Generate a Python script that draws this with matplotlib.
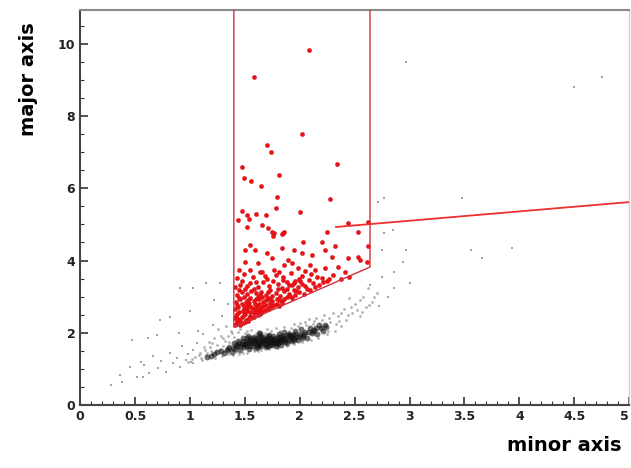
import matplotlib
matplotlib.use('Agg')
import matplotlib.pyplot as plt
from matplotlib.ticker import MultipleLocator

# selection cut (polygon) and fit line, in data units
cut_minor = [1.40, 1.40, 2.64, 2.64]
cut_major = [11.0, 2.16, 3.82, 11.0]
fit_minor = [2.33, 5.00]
fit_major = [4.93, 5.62]

# selected (red) events: (minor, major)
red_pts = [
    (1.42, 2.24), (1.45, 2.30), (1.48, 2.27), (1.51, 2.36), (1.44, 2.39), (1.53, 2.33), (1.43, 2.33),
    (1.42, 2.47), (1.47, 2.44), (1.50, 2.52), (1.55, 2.46), (1.58, 2.55), (1.62, 2.49), (1.66, 2.58),
    (1.45, 2.57), (1.52, 2.60), (1.60, 2.61), (1.56, 2.40), (1.49, 2.48),
    (1.41, 2.66), (1.44, 2.72), (1.49, 2.68), (1.53, 2.76), (1.57, 2.66), (1.61, 2.73), (1.65, 2.69),
    (1.69, 2.77), (1.73, 2.70), (1.77, 2.78), (1.47, 2.79), (1.59, 2.80), (1.81, 2.74), (1.63, 2.64),
    (1.42, 2.86), (1.46, 2.92), (1.51, 2.84), (1.55, 2.95), (1.58, 2.88), (1.63, 2.93), (1.67, 2.85),
    (1.71, 2.97), (1.75, 2.89), (1.79, 2.94), (1.84, 2.87), (1.88, 2.98), (1.93, 2.95), (1.49, 2.99),
    (1.62, 3.00), (1.54, 2.82), (1.69, 2.91),
    (1.43, 3.05), (1.47, 3.12), (1.52, 3.07), (1.56, 3.16), (1.60, 3.09), (1.65, 3.14), (1.69, 3.05),
    (1.73, 3.18), (1.78, 3.10), (1.82, 3.03), (1.86, 3.15), (1.90, 3.08), (1.95, 3.19), (1.99, 3.12),
    (2.04, 3.06), (2.09, 3.17), (1.75, 3.03),
    (1.41, 3.26), (1.46, 3.33), (1.50, 3.22), (1.55, 3.38), (1.62, 3.28), (1.67, 3.41), (1.72, 3.30),
    (1.80, 3.36), (1.84, 3.25), (1.88, 3.40), (1.93, 3.31), (2.00, 3.42), (2.05, 3.29), (2.12, 3.38),
    (2.18, 3.33), (2.25, 3.44), (1.90, 3.33), (1.95, 3.38), (1.98, 3.27), (2.02, 3.35), (1.96, 3.44),
    (1.43, 3.52), (1.49, 3.63), (1.57, 3.55), (1.64, 3.67), (1.70, 3.50), (1.78, 3.60), (1.85, 3.53),
    (1.92, 3.66), (2.02, 3.57), (2.10, 3.62), (2.20, 3.52), (2.30, 3.60), (2.38, 3.48), (2.45, 3.55),
    (1.45, 3.74), (1.55, 3.74), (1.66, 3.68), (1.77, 3.74), (1.86, 3.88), (1.93, 3.93), (1.98, 3.80),
    (2.09, 3.88), (2.14, 3.74), (2.23, 3.80), (2.35, 3.82), (2.41, 3.68), (2.55, 4.02), (2.61, 3.96),
    (1.75, 4.07), (1.89, 4.02), (1.50, 3.96), (1.62, 3.93),
    (1.55, 4.43), (2.03, 4.52), (2.20, 4.52), (2.32, 4.40), (2.62, 4.40), (1.50, 4.29), (1.59, 4.29),
    (1.70, 4.20), (1.84, 4.35), (1.95, 4.29), (2.02, 4.20), (2.11, 4.15), (2.23, 4.29), (2.29, 4.10),
    (2.44, 4.07), (2.53, 4.10),
    (1.77, 4.76), (1.85, 4.76), (2.25, 4.80), (2.53, 4.80), (1.52, 4.93), (1.66, 4.99), (1.71, 4.90),
    (1.75, 4.80), (1.86, 4.80), (1.84, 4.73), (1.76, 4.68), (2.44, 5.05), (2.62, 5.07),
    (1.79, 5.77), (2.28, 5.70), (1.78, 5.45), (1.47, 5.37), (1.52, 5.26), (1.60, 5.29), (1.69, 5.26),
    (2.00, 5.35), (1.44, 5.12), (1.54, 5.15),
    (1.47, 6.60), (1.49, 6.30), (1.56, 6.20), (1.65, 6.07), (1.81, 6.37), (2.34, 6.68),
    (1.70, 7.20), (1.74, 7.00), (2.02, 7.50), (1.58, 9.10), (2.08, 9.85),
    # extra events filling the dense lower part of the cut
    (1.41, 2.20), (1.46, 2.21), (1.50, 2.29), (1.46, 2.35), (1.54, 2.42), (1.41, 2.41), (1.58, 2.43),
    (1.61, 2.56), (1.64, 2.51), (1.68, 2.63), (1.43, 2.53), (1.48, 2.59), (1.55, 2.58), (1.52, 2.68),
    (1.60, 2.68), (1.67, 2.74), (1.71, 2.66), (1.75, 2.74), (1.79, 2.79), (1.84, 2.81), (1.43, 2.78),
    (1.50, 2.75), (1.56, 2.72), (1.63, 2.80), (1.73, 2.82), (1.45, 2.97), (1.53, 2.90), (1.60, 2.94),
    (1.66, 2.98), (1.73, 2.93), (1.81, 2.91), (1.86, 2.94), (1.91, 3.01), (1.96, 3.04), (1.45, 3.19),
    (1.58, 3.20), (1.64, 3.04), (1.71, 3.12), (1.80, 3.20), (1.88, 3.22), (1.97, 3.15), (2.07, 3.22),
    (2.14, 3.28), (2.21, 3.40), (1.52, 3.30), (1.60, 3.40), (1.76, 3.44), (1.85, 3.46), (1.99, 3.49),
    (2.08, 3.46), (2.16, 3.55), (2.27, 3.48), (1.47, 3.44), (1.68, 3.58), (1.81, 3.68), (2.05, 3.72),
]

# dense core of unselected (black) events
core_pts = [
    (1.31, 1.44), (1.34, 1.52), (1.36, 1.61), (1.38, 1.47), (1.40, 1.70), (1.41, 1.56), (1.43, 1.63),
    (1.44, 1.78), (1.46, 1.51), (1.47, 1.69), (1.48, 1.86), (1.49, 1.59), (1.51, 1.74), (1.52, 1.64),
    (1.53, 1.92), (1.54, 1.55), (1.55, 1.81), (1.56, 1.70), (1.57, 1.62), (1.58, 1.88), (1.59, 1.76),
    (1.60, 1.58), (1.61, 1.67), (1.62, 1.83), (1.63, 1.95), (1.64, 1.72), (1.65, 1.63), (1.66, 1.79),
    (1.67, 1.88), (1.68, 1.69), (1.69, 1.60), (1.70, 1.76), (1.71, 1.85), (1.72, 1.93), (1.73, 1.66),
    (1.74, 1.73), (1.75, 1.81), (1.76, 1.90), (1.77, 1.70), (1.78, 1.62), (1.79, 1.78), (1.80, 1.87),
    (1.81, 1.96), (1.82, 1.74), (1.83, 1.67), (1.84, 1.83), (1.85, 1.92), (1.86, 2.02), (1.87, 1.79),
    (1.88, 1.71), (1.89, 1.88), (1.90, 1.97), (1.92, 1.84), (1.93, 1.76), (1.94, 1.93), (1.96, 2.05),
    (1.97, 1.88), (1.98, 1.80), (2.00, 1.97), (2.01, 2.10), (2.03, 1.91), (2.05, 2.02), (2.07, 1.86),
    (2.09, 2.14), (2.11, 1.98), (2.13, 2.08), (2.16, 1.95), (2.18, 2.20), (2.21, 2.06), (2.24, 2.15),
    (1.62, 1.77), (1.66, 1.84), (1.70, 1.70), (1.74, 1.86), (1.78, 1.75), (1.82, 1.82), (1.86, 1.86),
    (1.68, 1.80), (1.72, 1.78), (1.76, 1.79), (1.80, 1.72), (1.64, 1.90), (1.58, 1.70), (1.54, 1.76),
    (1.50, 1.68), (1.46, 1.62), (1.88, 1.93), (1.92, 1.90), (1.96, 1.95), (1.60, 1.84), (1.84, 1.77),
    (1.71, 1.90), (1.79, 1.84), (1.67, 1.74), (1.75, 1.67), (1.63, 1.66), (1.58, 1.81), (1.52, 1.84),
    (1.65, 1.75), (1.69, 1.83), (1.73, 1.75), (1.77, 1.83), (1.81, 1.79), (1.85, 1.83), (1.61, 1.72),
    (1.57, 1.77), (1.53, 1.70), (1.49, 1.65), (1.45, 1.70), (1.42, 1.66), (1.39, 1.58), (1.35, 1.56),
    (1.28, 1.50), (1.25, 1.46), (1.22, 1.40), (1.19, 1.36), (1.16, 1.33), (1.90, 1.81), (1.95, 1.86),
    (1.99, 1.92), (2.04, 1.96), (2.08, 2.02), (2.12, 2.05), (2.15, 2.12), (2.19, 2.14), (2.23, 2.22),
    (1.48, 1.78), (1.56, 1.85), (1.64, 1.98), (1.69, 1.66), (1.76, 1.73), (1.83, 1.90), (1.91, 1.93),
    (1.55, 1.64), (1.62, 1.61), (1.71, 1.64), (1.79, 1.68), (1.87, 1.74), (1.95, 1.80), (2.02, 1.85),
]

# halo of unselected events around the core
halo_pts = [
    (1.05, 1.33), (1.09, 1.45), (1.11, 1.25), (1.13, 1.60), (1.15, 1.38), (1.17, 1.75), (1.19, 1.50),
    (1.21, 1.42), (1.23, 1.30), (1.25, 1.65), (1.27, 1.55), (1.29, 1.36), (1.32, 1.78), (1.35, 1.90),
    (1.28, 1.92), (1.22, 1.85), (1.18, 1.60), (1.37, 2.05), (1.33, 2.18), (1.26, 2.10), (1.39, 1.38),
    (1.45, 1.40), (1.52, 1.45), (1.58, 1.48), (1.65, 1.52), (1.72, 1.55), (1.80, 1.58), (1.88, 1.62),
    (1.95, 1.68), (2.02, 1.75), (2.10, 1.80), (2.17, 1.85), (2.25, 1.95), (2.32, 2.05), (2.38, 2.18),
    (2.28, 2.30), (2.20, 2.35), (2.12, 2.25), (2.05, 2.30), (1.98, 2.18), (1.92, 2.12), (1.86, 2.15),
    (2.35, 2.45), (2.42, 2.35), (2.48, 2.55), (2.55, 2.45), (2.60, 2.70), (2.50, 2.80), (2.40, 2.65),
    (2.30, 2.55), (2.22, 2.50), (2.58, 3.00), (2.66, 2.85), (2.70, 3.10), (2.45, 2.95), (2.62, 3.25),
    (2.15, 2.42), (2.08, 2.38), (2.00, 2.28), (1.56, 2.08), (1.50, 1.98), (1.44, 2.02), (1.60, 1.98),
    (1.68, 2.00), (1.74, 2.05), (1.82, 2.06), (1.90, 2.06), (2.26, 2.05), (2.19, 2.12), (2.33, 2.25),
    (1.40, 1.88), (1.36, 1.74), (1.30, 1.62), (1.24, 1.48), (1.16, 1.45), (1.10, 1.30), (1.42, 1.46),
    (2.36, 2.32), (2.44, 2.48), (2.52, 2.62), (2.57, 2.58), (2.63, 2.78), (2.38, 2.55), (2.27, 2.40),
    (2.13, 2.33), (2.06, 2.22), (2.47, 2.70), (2.55, 2.90), (2.68, 3.00), (1.95, 2.25), (1.78, 2.12),
    (1.70, 2.10), (1.62, 2.05), (1.52, 2.05), (1.46, 2.10), (1.38, 1.98), (1.30, 1.85), (1.20, 1.70),
    (1.14, 1.52), (1.08, 1.38), (1.02, 1.26), (0.98, 1.20), (1.35, 1.42), (1.48, 1.44), (1.62, 1.50),
]

# sparse, isolated unselected events
sparse_pts = [
    (0.28, 0.55), (0.36, 0.83), (0.38, 0.62), (0.45, 1.05), (0.47, 1.80), (0.52, 0.78), (0.57, 0.78),
    (0.58, 1.10), (0.63, 0.88), (0.66, 1.35), (0.70, 1.94), (0.71, 1.02), (0.73, 2.35), (0.74, 1.22),
    (0.78, 0.90), (0.82, 2.44), (0.82, 1.45), (0.85, 1.15), (0.88, 1.30), (0.91, 1.05), (0.91, 3.24),
    (0.93, 1.62), (0.96, 1.25), (0.98, 1.40), (1.01, 1.18), (1.03, 1.52), (1.03, 1.16), (1.03, 3.24),
    (1.07, 2.05), (1.15, 3.38), (1.21, 2.20), (1.27, 3.38), (1.29, 2.45), (1.00, 2.60), (0.90, 2.00),
    (1.35, 2.80), (1.22, 2.90), (0.62, 1.85), (0.55, 1.20), (1.12, 1.95), (1.06, 1.70),
    (2.64, 3.32), (2.75, 3.55), (2.86, 3.68), (2.86, 3.24), (3.00, 3.38), (2.94, 3.96), (2.75, 4.29),
    (2.97, 4.29), (2.77, 4.76), (2.85, 4.85), (2.71, 5.62), (2.77, 5.73), (3.48, 5.73), (3.56, 4.29),
    (3.66, 4.07), (3.93, 4.35), (2.80, 3.00), (2.72, 2.75), (2.97, 9.50), (4.50, 8.80), (4.75, 9.10),
]

x_ticks = [0, 0.5, 1, 1.5, 2, 2.5, 3, 3.5, 4, 4.5, 5]
x_labels = ['0', '0.5', '1', '1.5', '2', '2.5', '3', '3.5', '4', '4.5', '5']
y_ticks = [0, 2, 4, 6, 8, 10]


def split(pts):
    return [p[0] for p in pts], [p[1] for p in pts]


fig = plt.figure(figsize=(6.31, 4.68), dpi=100)
ax = fig.add_axes([0.127, 0.135, 0.870, 0.844])

sx, sy = split(sparse_pts)
ax.scatter(sx, sy, s=3, color='#666666', alpha=0.6, linewidths=0, marker='s')
hx, hy = split(halo_pts)
ax.scatter(hx, hy, s=4, color='#555555', alpha=0.45, linewidths=0)
cx, cy = split(core_pts)
ax.scatter(cx, cy, s=18, color='#111111', alpha=0.6, linewidths=0)

rx, ry = split(red_pts)
ax.scatter(rx, ry, s=9, color='#f01010', edgecolors='#c81020', linewidths=0.3, zorder=3)

ax.plot(cut_minor, cut_major, color='#d0303c', lw=1.0, zorder=4)
ax.plot(fit_minor, fit_major, color='#f03030', lw=1.3, zorder=4)

ax.set_xlim(0, 5)
ax.set_ylim(0, 10.95)
ax.set_xticks(x_ticks)
ax.set_xticklabels(x_labels)
ax.set_yticks(y_ticks)
ax.xaxis.set_minor_locator(MultipleLocator(0.1))
ax.yaxis.set_minor_locator(MultipleLocator(0.5))
ax.tick_params(which='both', direction='in', top=False, right=False, colors='#333333',
               labelsize=9, labelcolor='#222222')
ax.tick_params(which='major', length=6, width=1.2)
ax.tick_params(which='minor', length=3, width=0.8)
for lab in ax.get_xticklabels() + ax.get_yticklabels():
    lab.set_fontweight('bold')
ax.get_xticklabels()[-1].set_horizontalalignment('right')

for side in ['left', 'bottom']:
    ax.spines[side].set_color('#444444')
    ax.spines[side].set_linewidth(1.5)
ax.spines['top'].set_color('#888888')
ax.spines['top'].set_linewidth(1.5)
ax.spines['right'].set_color('#f0c0c8')
ax.spines['right'].set_linewidth(1.0)

fig.text(0.045, 0.83, 'major axis', rotation=90, fontsize=14, fontweight='bold',
         ha='center', va='center')
fig.text(0.985, 0.028, 'minor axis', fontsize=14, fontweight='bold', ha='right', va='bottom')

fig.savefig('out.png', dpi=100)
